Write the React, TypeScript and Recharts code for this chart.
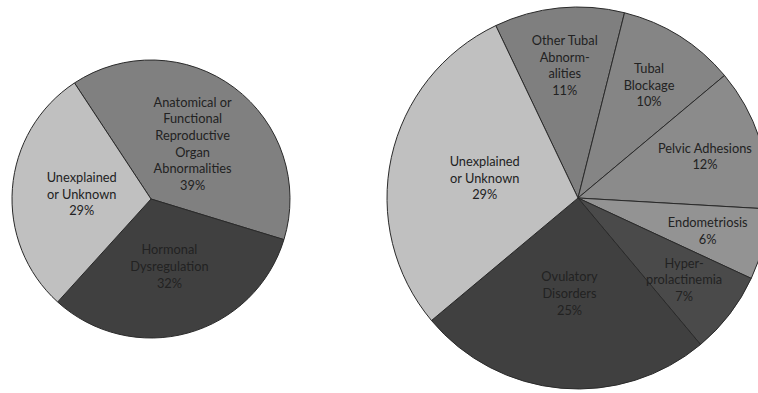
import React from "react";
import { PieChart, Pie, Cell } from "recharts";

// Left pie: broad causes
const leftNames = [
  "Anatomical or\nFunctional\nReproductive\nOrgan\nAbnormalities",
  "Hormonal\nDysregulation",
  "Unexplained\nor Unknown",
];
const leftValues = [39, 32, 29];
const leftColors = ["#808080", "#404040", "#c0c0c0"];

// Right pie: detailed causes
const rightNames = [
  "Other Tubal\nAbnorm-\nalities",
  "Tubal\nBlockage",
  "Pelvic Adhesions",
  "Endometriosis",
  "Hyper-\nprolactinemia",
  "Ovulatory\nDisorders",
  "Unexplained\nor Unknown",
];
const rightValues = [11, 10, 12, 6, 7, 25, 29];
const rightColors = ["#7f7f7f", "#858585", "#8b8b8b", "#939393", "#4a4a4a", "#404040", "#c0c0c0"];

const leftData = leftNames.map((name, i) => ({ name, value: leftValues[i] }));
const rightData = rightNames.map((name, i) => ({ name, value: rightValues[i] }));

const RAD = Math.PI / 180;
const LINE_H = 16.7;

const renderLabel = (props: any) => {
  const { cx, cy, midAngle, outerRadius, payload, value } = props;
  const frac = value >= 20 ? 0.5 : 0.7;
  const r = outerRadius * frac;
  const x = cx + r * Math.cos(-midAngle * RAD);
  const y = cy + r * Math.sin(-midAngle * RAD);
  const lines = [...String(payload.name).split("\n"), `${value}%`];
  const top = y - ((lines.length - 1) * LINE_H) / 2;
  return (
    <text
      x={x}
      y={top}
      textAnchor="middle"
      dominantBaseline="central"
      fill="#222222"
      style={{ fontFamily: "Lato, 'Liberation Sans', sans-serif", fontSize: 12.8 }}
    >
      {lines.map((l, i) => (
        <tspan key={i} x={x} y={top + i * LINE_H}>
          {l}
        </tspan>
      ))}
    </text>
  );
};

export default function App() {
  return (
    <div style={{ position: "absolute", left: 0, top: 0, width: 758, height: 393, overflow: "hidden", background: "#fff" }}>
      <PieChart width={758} height={393} margin={{ top: 0, right: 0, bottom: 0, left: 0 }}>
        <Pie
          data={leftData}
          dataKey="value"
          nameKey="name"
          cx={151}
          cy={199}
          outerRadius={139}
          startAngle={123.4}
          endAngle={-236.6}
          stroke="#2a2a2a"
          strokeWidth={1}
          labelLine={false}
          label={renderLabel}
          isAnimationActive={false}
        >
          {leftData.map((d, i) => (
            <Cell key={i} fill={leftColors[i]} />
          ))}
        </Pie>
        <Pie
          data={rightData}
          dataKey="value"
          nameKey="name"
          cx={578}
          cy={198}
          outerRadius={191}
          startAngle={115.5}
          endAngle={-244.5}
          stroke="#2a2a2a"
          strokeWidth={1}
          labelLine={false}
          label={renderLabel}
          isAnimationActive={false}
        >
          {rightData.map((d, i) => (
            <Cell key={i} fill={rightColors[i]} />
          ))}
        </Pie>
      </PieChart>
    </div>
  );
}
